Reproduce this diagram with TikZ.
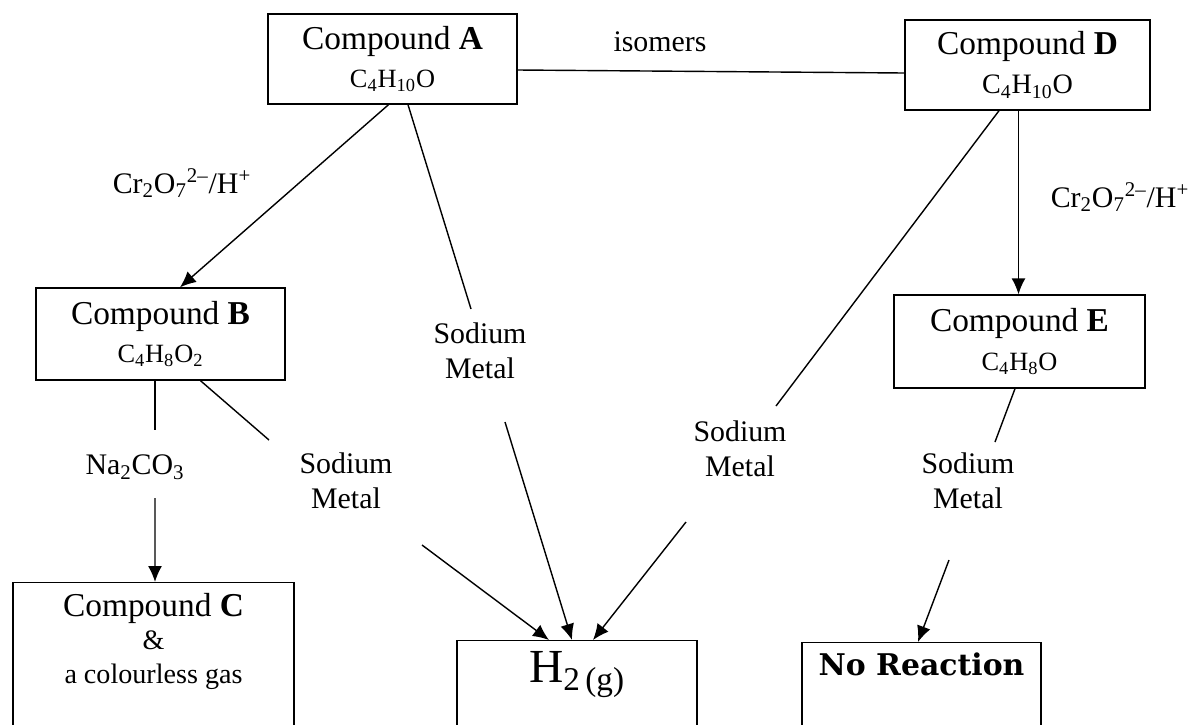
\documentclass[tikz,border=0pt]{standalone}
\usepackage{fontspec}
\setmainfont{Liberation Serif}
\newfontfamily\scholafont{DejaVu Serif}
\usetikzlibrary{arrows.meta,calc,positioning}
\newcommand{\chsub}[1]{\textsubscript{#1}}
\newcommand{\chsup}[1]{\textsuperscript{#1}}
\newcommand{\formfont}{\fontsize{15}{22}\selectfont}
\newcommand{\oxid}{Cr\chsub{2}O\chsub{7}\chsup{2--}/H\chsup{+}}
\newcommand{\opentext}[3]{\parbox[t][#2][t]{#1}{\centering #3}}

\begin{document}
\begin{tikzpicture}[
		x=0.02cm, y=-0.02cm,
		compound/.style={draw,line width=0.8pt,align=center,inner sep=0pt,font=\fontsize{19}{22}\selectfont},
		openbox/.style={draw,line width=0.8pt,anchor=north,inner xsep=0pt,inner ysep=6pt},
		reagent/.style={align=center,inner sep=0pt,font=\fontsize{17}{20}\selectfont},
		link/.style={line width=0.8pt},
		arr/.style={line width=0.8pt,-{Latex[length=3.2mm,width=2.8mm]}}
	]
	\useasboundingbox (0,0) rectangle (1194,724);

	% compounds
	\node[compound,minimum width=4.98cm,minimum height=1.8cm] (A) at (392.5,59) {Compound \textbf{A}\\{\formfont C\chsub{4}H\chsub{10}O}};
	\node[compound,minimum width=4.9cm,minimum height=1.8cm] (D) at (1027.5,65) {Compound \textbf{D}\\{\fontsize{16}{22}\selectfont C\chsub{4}H\chsub{10}O}};
	\node[compound,minimum width=4.98cm,minimum height=1.84cm] (B) at (160.5,334) {Compound \textbf{B}\\{\formfont C\chsub{4}H\chsub{8}O\chsub{2}}};
	\node[compound,minimum width=5.02cm,minimum height=1.86cm] (E) at (1019.5,341.5) {Compound \textbf{E}\\{\formfont C\chsub{4}H\chsub{8}O}};

	% products (boxes run off the page)
	\node[openbox,minimum width=5.62cm] (C) at (153.5,582) {\opentext{5.5cm}{2.5cm}{\fontsize{19}{19}\selectfont Compound \textbf{C}\\\fontsize{16}{19}\selectfont \&\\a colourless gas}};
	\node[openbox,minimum width=4.8cm] (H) at (577,640) {\opentext{4.6cm}{1.34cm}{\fontsize{27}{27}\selectfont H\chsub{2\,(g)}}};
	\node[openbox,minimum width=4.78cm] (N) at (921.5,642) {\opentext{4.6cm}{1.3cm}{\scholafont\bfseries\fontsize{17}{17}\selectfont No Reaction}};

	% reagents
	\node[reagent] (iso) at (660,42) {isomers};
	\node[reagent] (oxA) at (182,183) {\oxid};
	\node[reagent] (oxD) at (1120,197) {\oxid};
	\node[reagent] (carb) at (135,467) {Na\chsub{2}CO\chsub{3}};
	\node[reagent] (naA) at (480,351) {Sodium\\Metal};
	\node[reagent] (naB) at (346,481) {Sodium\\Metal};
	\node[reagent] (naD) at (740,449) {Sodium\\Metal};
	\node[reagent] (naE) at (968,481) {Sodium\\Metal};

	\draw ($(A.east)+(0,11)$) edge[link] ($(D.west)+(0,8)$);
	\draw ($(A.south)+(-4,0)$) edge[arr] ($(B.north)+(19.5,0)$);
	\draw ($(A.south)+(15.5,0)$) edge[link] ($(naA)+(-9,-42)$);
	\draw ($(naA)+(25,71)$) edge[arr] ($(H.north)+(-5,0)$);
	\draw ($(B.south)+(-5.5,0)$) edge[link] ($(carb)+(20,-37)$);
	\draw ($(carb)+(20,31)$) edge[arr] ($(C.north)+(1.5,0)$);
	\draw ($(B.south)+(40,0)$) edge[link] ($(naB)+(-77,-41)$);
	\draw ($(naB)+(76,64)$) edge[arr] ($(H.north)+(-28,0)$);
	\draw ($(D.south)+(-28.5,0)$) edge[link] ($(naD)+(36,-43)$);
	\draw ($(naD)+(-54,73)$) edge[arr] ($(H.north)+(16,0)$);
	\draw ($(D.south)+(-9,0)$) edge[arr] ($(E.north)+(-1,0)$);
	\draw ($(E.south)+(-4.5,0)$) edge[link] ($(naE)+(27,-39)$);
	\draw ($(naE)+(-19,79)$) edge[arr] ($(N.north)+(-3.5,0)$);
\end{tikzpicture}
\end{document}
